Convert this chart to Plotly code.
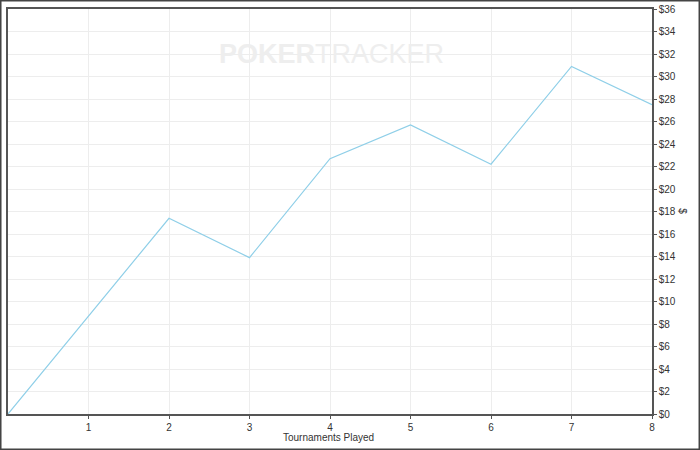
import plotly.graph_objects as go

tournaments = [0, 1, 2, 3, 4, 5, 6, 7, 8]
profit = [0, 8.7, 17.4, 13.9, 22.7, 25.7, 22.2, 30.9, 27.5]
y_ticks = list(range(0, 37, 2))
y_tick_labels = ["$" + str(v) for v in y_ticks]
x_ticks = [1, 2, 3, 4, 5, 6, 7, 8]

fig = go.Figure()
fig.add_trace(go.Scatter(
    x=tournaments, y=profit, mode="lines",
    line=dict(color="#8fcfe8", width=1.2),
    hoverinfo="x+y", showlegend=False,
))

axis_font = dict(family="Liberation Sans, Arial, sans-serif", size=10, color="#333333")

fig.update_layout(
    width=700, height=450,
    margin=dict(l=8, r=48, t=9, b=36, autoexpand=False),
    paper_bgcolor="white", plot_bgcolor="white",
    xaxis=dict(
        range=[0, 8], tickvals=x_ticks, ticks="outside", ticklen=3,
        tickcolor="#555555", showline=True, linecolor="#555555", linewidth=1.5,
        mirror=True, showgrid=True, gridcolor="#ededed", gridwidth=1,
        zeroline=False, tickfont=axis_font, automargin=False,
    ),
    yaxis=dict(
        range=[0, 36], tickvals=y_ticks, ticktext=y_tick_labels, side="right",
        ticks="outside", ticklen=3, tickcolor="#555555", showline=True,
        linecolor="#555555", linewidth=1.5, mirror=True, showgrid=True,
        gridcolor="#ededed", gridwidth=1, zeroline=False, tickfont=axis_font,
        automargin=False,
    ),
    font=axis_font,
)

fig.add_annotation(
    x=0.498, y=-0.057, xref="paper", yref="paper",
    text="Tournaments Played", showarrow=False, font=axis_font,
    xanchor="center", yanchor="middle",
)
fig.add_annotation(
    x=1.047, y=0.5, xref="paper", yref="paper",
    text="$", showarrow=False, font=axis_font, textangle=90,
    xanchor="center", yanchor="middle",
)

fig.add_annotation(
    x=0.502, y=0.93, xref="paper", yref="paper",
    text="<b>POKER</b>TRACKER", showarrow=False,
    font=dict(family="Liberation Sans, Arial, sans-serif", size=27, color="#eeeeee"),
)

fig.add_shape(
    type="rect", xref="paper", yref="paper",
    x0=-0.0116, x1=1.0738, y0=-0.0877, y1=1.0210,
    line=dict(color="#444444", width=2), layer="above",
)

fig.write_html(
    "out.html",
    config={"displayModeBar": False},
    post_script="document.body.style.margin='0';document.body.style.overflow='hidden';",
)
